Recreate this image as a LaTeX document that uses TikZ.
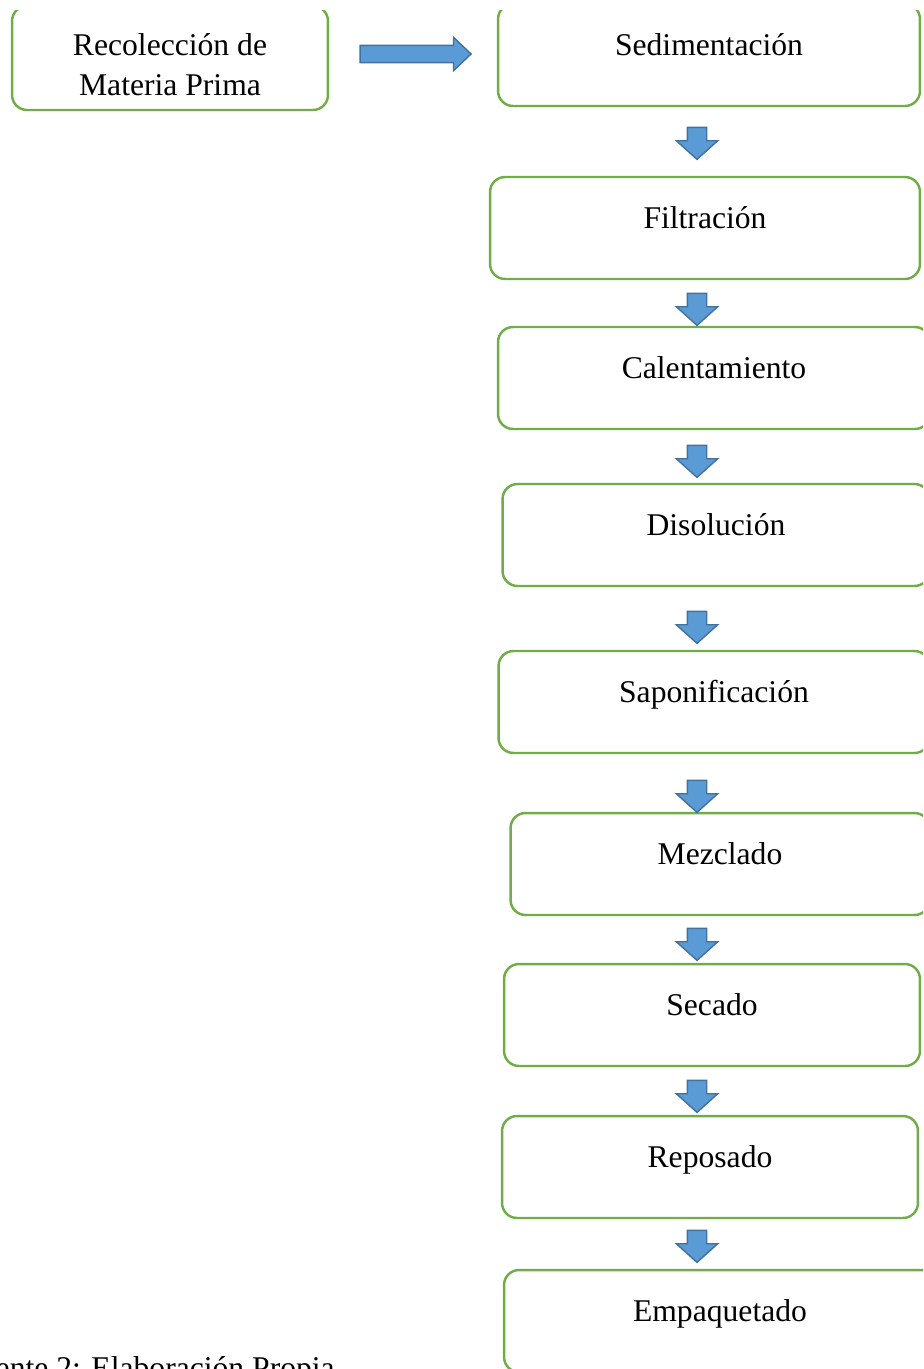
\documentclass[tikz,border=0pt]{standalone}
\usepackage{fontspec}
\setmainfont{Liberation Serif}
\usetikzlibrary{shapes.arrows}
\definecolor{boxgreen}{HTML}{70AD47}
\definecolor{arrblue}{HTML}{5B9BD5}
\definecolor{arredge}{HTML}{41719C}

\begin{document}
\begin{tikzpicture}[x=0.02cm, y=-0.02cm,
  every node/.style={font=\fontsize{18}{22.7}\selectfont},
  stepbox/.style={draw=boxgreen, line width=1.4pt, rounded corners=0.3cm,
    inner sep=0pt, text height=1.02cm, text depth=1.02cm},
  downarr/.style={single arrow, fill=arrblue, draw=arredge, line width=0.8pt,
    inner sep=0.18cm, minimum height=0.64cm,
    single arrow head extend=0.22cm, single arrow tip angle=96,
    shape border rotate=270},
  rightarr/.style={single arrow, fill=arrblue, draw=arredge, line width=0.8pt,
    inner sep=0.16cm, minimum height=2.22cm,
    single arrow head extend=0.16cm, single arrow tip angle=87}]
  \useasboundingbox (0,0) rectangle (923,1369);

  \begin{scope}
  \clip (0,10) rectangle (923,1369);

  % first step and arrow to the column
  \node[draw=boxgreen, line width=1.4pt, rounded corners=0.3cm, inner sep=0pt,
    minimum width=6.32cm, minimum height=2.08cm, align=center] (rec) at (170,58)
    {\rule{0pt}{0.69cm}Recolección de\\Materia Prima};
  \node[rightarr] (r1) at (411,54) {};

  % process column
  \node[stepbox, minimum width=8.44cm] (sed) at (709,55) {Sedimentación};
  \node[stepbox, minimum width=8.6cm] (fil) at (705,228) {Filtración};
  \node[stepbox, minimum width=8.64cm] (cal) at (714,378) {Calentamiento};
  \node[stepbox, minimum width=8.54cm] (dis) at (716,535) {Disolución};
  \node[stepbox, minimum width=8.62cm] (sap) at (714,702) {Saponificación};
  \node[stepbox, minimum width=8.38cm] (mez) at (720,864) {Mezclado};
  \node[stepbox, minimum width=8.32cm] (sec) at (712,1015) {Secado};
  \node[stepbox, minimum width=8.32cm] (rep) at (710,1167) {Reposado};
  \node[stepbox, minimum width=8.64cm] (emp) at (720,1321) {Empaquetado};

  \foreach \y [count=\i] in {139,305,457,623,792,940,1092,1242}
    \node[downarr] (d\i) at (697,\y) {};

  \node[anchor=base west, inner sep=0pt] (src) at (-38,1378)
    {Fuente 2: Elaboración Propia};
  \end{scope}
\end{tikzpicture}
\end{document}
